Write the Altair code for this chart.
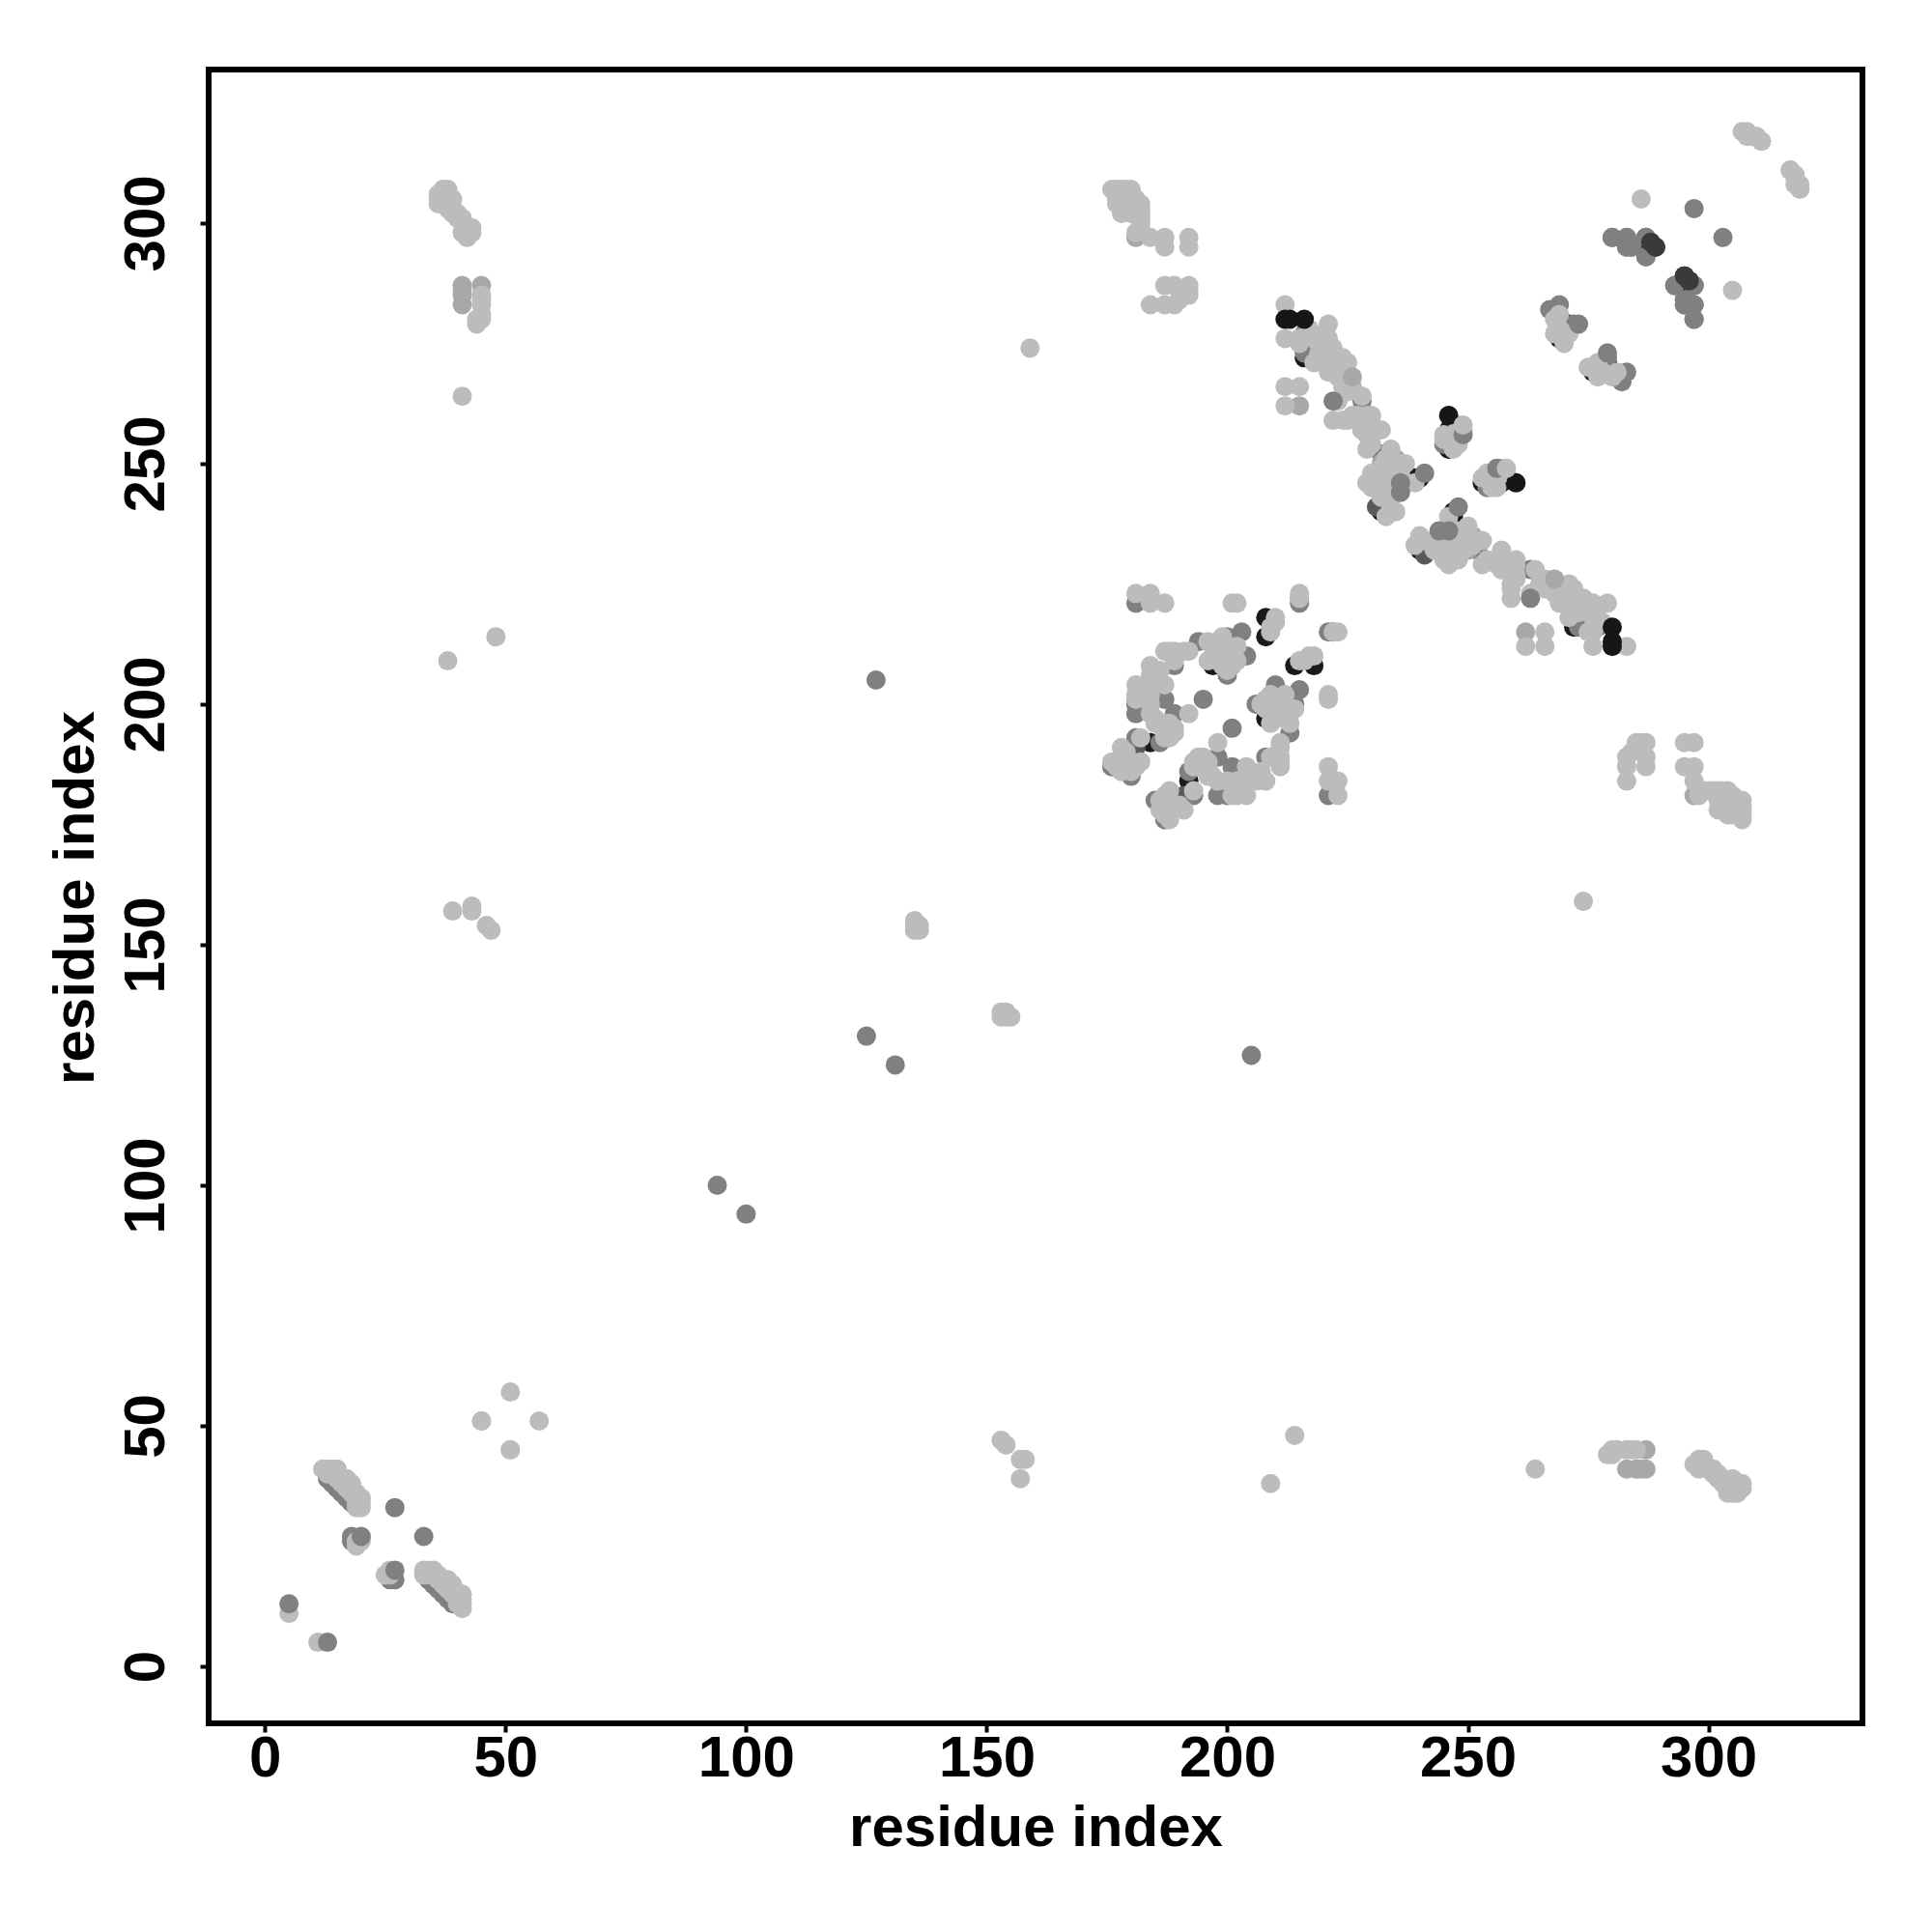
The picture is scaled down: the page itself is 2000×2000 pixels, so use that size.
import altair as alt
import pandas as pd

# Residue contacts, listed once for x < y; the map is symmetric and is mirrored below.
black_under = [(14,39),(216,272),(239,247),(233,241),(232,240),(240,247),
    (246,257),(248,256),(246,253),(247,258),(208,218),(208,214),(197,208),(184,192),
    (269,276),(271,279),(269,279),(295,286),(295,287),(287,295),(288,296)]
dark_grey = [(231,241),(181,191),(289,295),(295,289)]
mid_under = [(13,39),(14,38),(15,37),(16,36),(17,35),(18,34),(18,27),(18,26),(27,33),(94,100),(125,131),(127,205),
    (216,273),(216,277),(228,263),(228,257),(228,261),(225,265),(232,252),(181,221),(215,221),
    (194,213),(200,214),(203,215),(204,210),(200,206),(189,208),(181,200),(181,198),(187,201),(189,198),(195,201),
    (186,192),(181,193),(176,187),(180,185),(178,187),(215,222),
    (267,282),(269,283),(272,279),(280,297),(283,297),(283,295),(284,295),(287,297),(287,293),
    (293,287),(297,287),(295,284),(295,283),(297,283),(297,280),(297,303),(248,255),(245,254)]
pale = [(41,287),(41,286),(41,285),(41,283),(45,287),(181,297),(215,262),(232,250),(231,248),(233,247),(234,244),(235,251)]
light = [(5,11),(12,41),(13,41),(14,41),(15,41),(13,40),(14,40),(15,40),(15,39),(16,39),(17,39),(16,38),(17,38),(18,38),
    (17,37),(18,37),(18,36),(19,36),(19,35),(20,35),(19,34),(20,34),(19,33),(20,33),(19,25),(19,26),(20,26),
    (45,51),(51,57),(51,45),
    (38,209),(48,214),(39,157),(43,157),(43,158),(46,154),(47,153),(135,153),(136,153),(135,154),(136,154),(135,155),
    (159,274),(41,264),
    (37,307),(38,307),(36,306),(36,305),(37,305),(36,304),(37,304),(38,306),(39,305),(38,303),(39,303),(39,302),(40,302),
    (41,301),(40,301),(41,300),(42,299),(43,299),(42,298),(42,297),(43,298),(41,298),
    (45,285),(45,284),(45,283),(45,281),(44,280),(44,279),(45,280),
    (176,307),(177,307),(178,307),(179,307),(180,307),(177,306),(177,305),(177,304),(178,304),(179,303),(178,302),(180,302),
    (181,305),(181,304),(182,304),(182,303),(182,302),(182,301),(182,300),(182,299),(181,298),(184,297),(187,297),(187,295),
    (192,297),(192,295),(187,287),(189,287),(192,287),(192,286),(191,285),(192,285),(184,283),(187,283),(189,283),(190,284),
    (212,283),(212,276),(215,276),(217,278),(215,275),(221,279),(217,277),(218,276),(219,275),(220,277),(220,275),(221,276),
    (222,274),(223,272),(224,272),(224,270),(225,271),(219,273),(220,272),(218,271),(221,269),(222,270),(223,268),(225,269),
    (224,266),(226,266),(228,264),(225,265),(223,263),(222,259),(224,259),(225,259),(226,260),(229,260),(230,260),(227,260),
    (231,257),(232,257),(228,257),(229,256),(229,253),(230,254),(234,253),(233,251),(236,250),(237,250),(235,248),(232,249),
    (230,248),(229,246),(230,245),(231,247),(232,245),(232,243),(234,243),(234,241),(235,240),(233,239),(236,248),(237,246),
    (239,246),(234,246),(212,266),(215,266),(212,262),
    (245,256),(245,255),(247,254),(247,253),(248,254),(247,256),(249,257),(248,258),
    (181,223),(184,223),(184,221),(187,221),(201,221),(202,221),(215,223),(210,218),(209,215),(222,215),(209,216),(210,217),
    (187,211),(188,211),(189,211),(191,211),(192,211),(189,210),(189,209),
    (196,213),(196,209),(199,212),(200,210),(201,208),(199,208),(198,210),(200,207),(197,212),(199,214),(202,212),(201,211),
    (202,209),(200,209),(198,213),(197,210),
    (184,208),(185,206),(184,206),(186,207),(181,204),(181,202),(181,201),(184,204),(184,202),(184,200),(184,198),(185,197),
    (187,204),(192,198),(185,196),(187,196),(188,196),(189,195),(188,193),(187,194),(189,194),(187,193),(182,193),
    (178,191),(176,188),(177,187),(178,189),(180,186),(182,188),(180,188),(179,190),(178,186),(181,187),
    (268,280),(269,278),(270,277),(271,277),(270,275),(268,277),(269,281),
    (286,305),(307,319),(308,319),(309,318),(310,318),(311,317)]
top_mid = [(5,13),(20,27),(236,244),(236,246),(222,263),(241,248),(249,256),(273,279),(297,287)]
top_pale = [(226,268)]
top_black = [(212,280),(213,280),(216,280),(246,260)]
top_light = [(249,258),(317,311),(318,310),(318,308)]
top_dark = [(289,295),(288,296)]

groups = [("#1A1A1A", black_under), ("#5A5A5A", dark_grey), ("#808080", mid_under), ("#A8A8A8", pale),
          ("#BCBCBC", light), ("#808080", top_mid), ("#A8A8A8", top_pale), ("#161616", top_black),
          ("#BCBCBC", top_light), ("#3A3A3A", top_dark)]
x_ticks = [0, 50, 100, 150, 200, 250, 300]

rows = []
for colour, pts in groups:
    for a, b in pts:
        rows.append({"x": a, "y": b, "c": colour})
    for a, b in pts:
        rows.append({"x": b, "y": a, "c": colour})
df = pd.DataFrame(rows)

chart = alt.Chart(df).mark_circle(size=400, opacity=1).encode(
    x=alt.X("x:Q", scale=alt.Scale(domain=[-11.7, 332], nice=False, zero=False),
            axis=alt.Axis(values=x_ticks, title="residue index", titleY=79, labelPadding=-2)),
    y=alt.Y("y:Q", scale=alt.Scale(domain=[-11.85, 331.9], nice=False, zero=False),
            axis=alt.Axis(values=x_ticks, title="residue index", titleX=-107, labelAngle=270,
                          labelPadding=25, titleY=857)),
    color=alt.Color("c:N", scale=None),
).properties(width=1712, height=1712, padding={"left": 40, "top": 64, "right": 20, "bottom": 20}, background="white"
).configure_view(stroke="black", strokeWidth=6
).configure_axis(domain=False, grid=False, tickColor="black", tickWidth=4, tickSize=9,
    labelFont="Liberation Sans", labelFontWeight="bold", labelFontSize=60, labelColor="black",
    titleFont="Liberation Sans", titleFontWeight="bold", titleFontSize=60, titleColor="black")

chart.save("out.html", embed_options={"renderer": "svg", "actions": False})
